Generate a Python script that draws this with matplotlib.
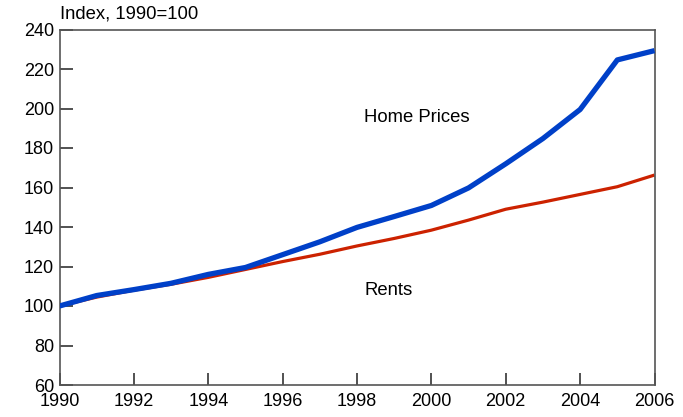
import matplotlib
matplotlib.use("Agg")
import matplotlib.pyplot as plt

years = list(range(1990, 2007))
home_prices = [100, 105.3, 108.3, 111.5, 116, 119.5, 126, 132.5, 139.8, 145.3, 150.9,
               159.8, 172, 184.8, 199.5, 224.6, 229.3]
rents = [100, 104.5, 108, 111, 114.5, 118.5, 122.5, 126.2, 130.4, 134.2, 138.4,
         143.5, 149, 152.6, 156.5, 160.4, 166.3]
x_ticks = list(range(1990, 2007, 2))
y_ticks = list(range(60, 241, 20))

plt.rcParams['font.family'] = ['Liberation Sans', 'DejaVu Sans']

fig = plt.figure(figsize=(6.83, 4.17), dpi=100)
ax = fig.add_axes([59.5/683, 1 - 385/417, (654.5-59.5)/683, (385-29.5)/417])

ax.plot(years, rents, color='#CC2200', lw=2.3, solid_capstyle='butt', zorder=2)
ax.plot(years, home_prices, color='#0040C8', lw=3.8, solid_capstyle='butt', zorder=3)

ax.set_xlim(1990, 2006)
ax.set_ylim(60, 240)
ax.set_xticks(x_ticks)
ax.set_yticks(y_ticks)
ax.tick_params(direction='in', length=9, width=1.2, color='#333333',
               labelsize=13, pad=4, top=False, right=False)
ax.tick_params(axis='x', pad=6)
for s in ax.spines.values():
    s.set_color('#555555')
    s.set_linewidth(1.2)

ax.text(0.0, 1.02, 'Index, 1990=100', transform=ax.transAxes, fontsize=13.3,
        ha='left', va='bottom')
ax.text(1998.2, 195.3, 'Home Prices', fontsize=13.3, ha='left', va='center')
ax.text(1998.2, 108, 'Rents', fontsize=13.3, ha='left', va='center')

fig.savefig('out.png', dpi=100)
